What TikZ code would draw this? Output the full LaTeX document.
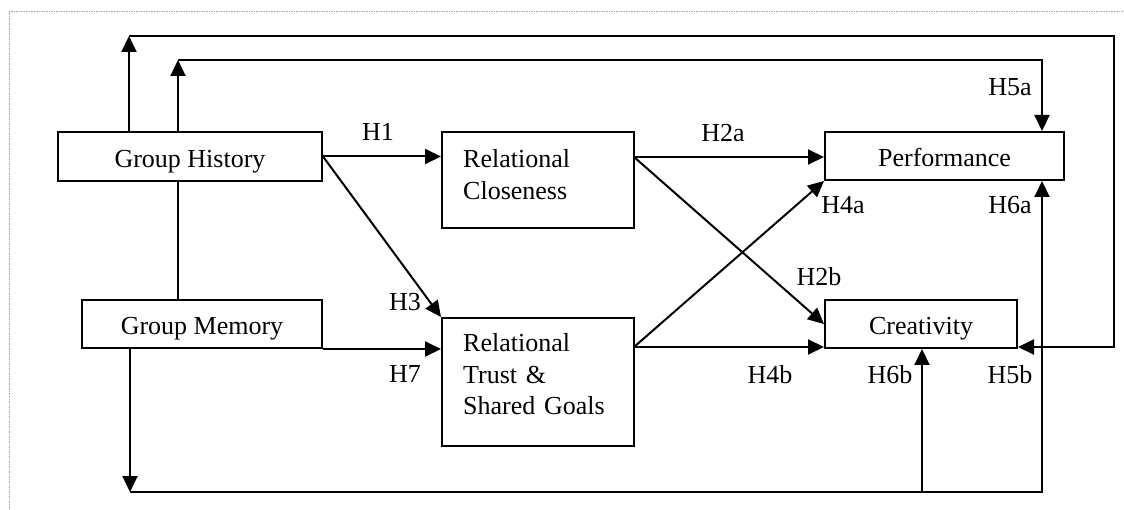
\documentclass[tikz,border=0pt]{standalone}
\usepackage{fontspec}
\setmainfont{Liberation Serif}
\usetikzlibrary{arrows.meta,calc}
\tikzset{
  box/.style={draw=black, line width=2pt, rectangle, inner sep=0pt, text height=22pt, text depth=0pt, font=\fontsize{26}{31}\selectfont},
  btext/.style={inner sep=0pt, text width=170pt, align=left, anchor=base west, font=\fontsize{26}{31.5}\selectfont},
  hlab/.style={inner sep=0pt, font=\fontsize{26}{31}\selectfont},
  conn/.style={line width=2pt, draw=black},
  arr/.style={conn, -{Triangle[length=16pt,width=15pt]}},
  frame/.style={draw=gray!70, line width=1pt, dash pattern=on 1.5pt off 1pt}
}
\begin{document}
\begin{tikzpicture}[x=1pt,y=-1pt]
\useasboundingbox (0,0) rectangle (1124,510);
\draw[frame] (9,510) -- (9,12) -- (1124,12);

% boxes
\node[box, minimum width=264pt, minimum height=49pt] (gh) at (190,156.5) {Group History};
\node[box, minimum width=240pt, minimum height=48pt] (gm) at (202,324) {Group Memory};
\node[box, minimum width=192pt, minimum height=96pt, text height=0pt] (rc) at (538,180) {};
\node[box, minimum width=192pt, minimum height=128pt, text height=0pt] (rt) at (538,382) {};
\node[box, minimum width=239pt, minimum height=48pt] (perf) at (944.5,156) {Performance};
\node[box, minimum width=192pt, minimum height=48pt] (cre) at (921,324) {Creativity};
\node[btext] (rctext) at (463,168) {Relational\\Closeness};
\node[btext] (rttext) at (463,352) {Relational\\Trust \&\\Shared Goals};

% helper coordinates
\coordinate (ga) at (129,36);
\coordinate (gb) at (178,60);
\coordinate (ra) at (1114,36);
\coordinate (rb) at (1114,347);
\coordinate (pa) at (1042,60);
\coordinate (ma) at (130,492);
\coordinate (mb) at (1042,492);
\coordinate (mc) at (922,492);
\coordinate (rcout) at (634,157);
\coordinate (rtout) at (634,347);

% connectors
\draw[conn] (gh.south -| gb) -- (gm.north -| gb);
\draw[arr] (gh.north -| ga) -- (ga);
\draw[arr] (ga) -- (ra) -- (rb) -- (rb -| cre.east);
\draw[arr] (gh.north -| gb) -- (gb);
\draw[arr] (gb) -- (pa) -- (pa |- perf.north);
\draw[arr] (gh.east) -- (gh.east -| rc.west);
\draw[arr] (gh.east) -- (rt.north west);
\draw[arr] (gm.south east) -- (gm.south east -| rt.west);
\draw[arr] (rcout) -- (rcout -| perf.west);
\draw[arr] (rcout) -- (cre.west);
\draw[arr] (rtout) -- (perf.south west);
\draw[arr] (rtout) -- (rtout -| cre.west);
\draw[arr] (gm.south -| ma) -- (ma);
\draw[arr] (ma) -- (mb) -- (mb |- perf.south);
\draw[arr] (mc) -- (mc |- cre.south);

% labels
\node[hlab] (h1) at (378,132) {H1};
\node[hlab] (h3) at (405,302) {H3};
\node[hlab] (h7) at (405,374) {H7};
\node[hlab] (h2a) at (723,133) {H2a};
\node[hlab] (h5a) at (1010,87) {H5a};
\node[hlab] (h4a) at (843,205) {H4a};
\node[hlab] (h6a) at (1010,205) {H6a};
\node[hlab] (h2b) at (819,277) {H2b};
\node[hlab] (h4b) at (770,375) {H4b};
\node[hlab] (h6b) at (890,375) {H6b};
\node[hlab] (h5b) at (1010,375) {H5b};
\end{tikzpicture}
\end{document}
